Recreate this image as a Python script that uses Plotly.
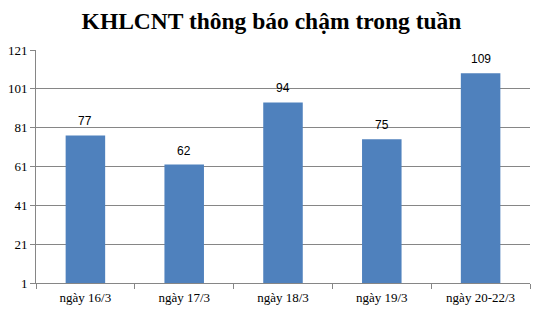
import plotly.graph_objects as go

categories = ["ngày 16/3", "ngày 17/3", "ngày 18/3", "ngày 19/3", "ngày 20-22/3"]
values = [77, 62, 94, 75, 109]
y_ticks = [1, 21, 41, 61, 81, 101, 121]
title = "KHLCNT thông báo chậm trong tuần"

fig = go.Figure()
fig.add_trace(go.Bar(
    x=categories, y=values, base=0,
    marker=dict(color="#4F81BD", line=dict(width=0)),
    width=0.4,
))
for c, v in zip(categories, values):
    fig.add_annotation(x=c, y=v, text=str(v), showarrow=False, yshift=14,
                       font=dict(family="Liberation Sans, Arial", size=12, color="#000000"))

fig.update_layout(
    width=543, height=313,
    margin=dict(l=36, r=13, t=50, b=30, autoexpand=False),
    paper_bgcolor="white", plot_bgcolor="white",
    showlegend=False,
    title=dict(text="<b>" + title + "</b>", x=0.5, xanchor="center", y=0.935, yanchor="middle",
               font=dict(family="Liberation Serif, Times New Roman", size=23.5, color="#000000")),
    bargap=0.6,
)
fig.update_xaxes(
    type="category", showline=True, linecolor="#868686", linewidth=1,
    ticks="outside", tickson="boundaries", ticklen=5, tickcolor="#868686",
    tickfont=dict(family="Liberation Serif, Times New Roman", size=13, color="#000000"),
    ticklabelstandoff=2, automargin=False,
    showgrid=False,
)
fig.update_yaxes(
    range=[1, 121], tickvals=y_ticks, ticktext=[str(t) for t in y_ticks],
    showline=True, linecolor="#868686", linewidth=1,
    ticks="outside", ticklen=5, tickcolor="#868686",
    showgrid=True, gridcolor="#868686", gridwidth=1,
    zeroline=False, automargin=False,
    tickfont=dict(family="Liberation Serif, Times New Roman", size=13, color="#000000"),
)
fig.write_html("out.html")
